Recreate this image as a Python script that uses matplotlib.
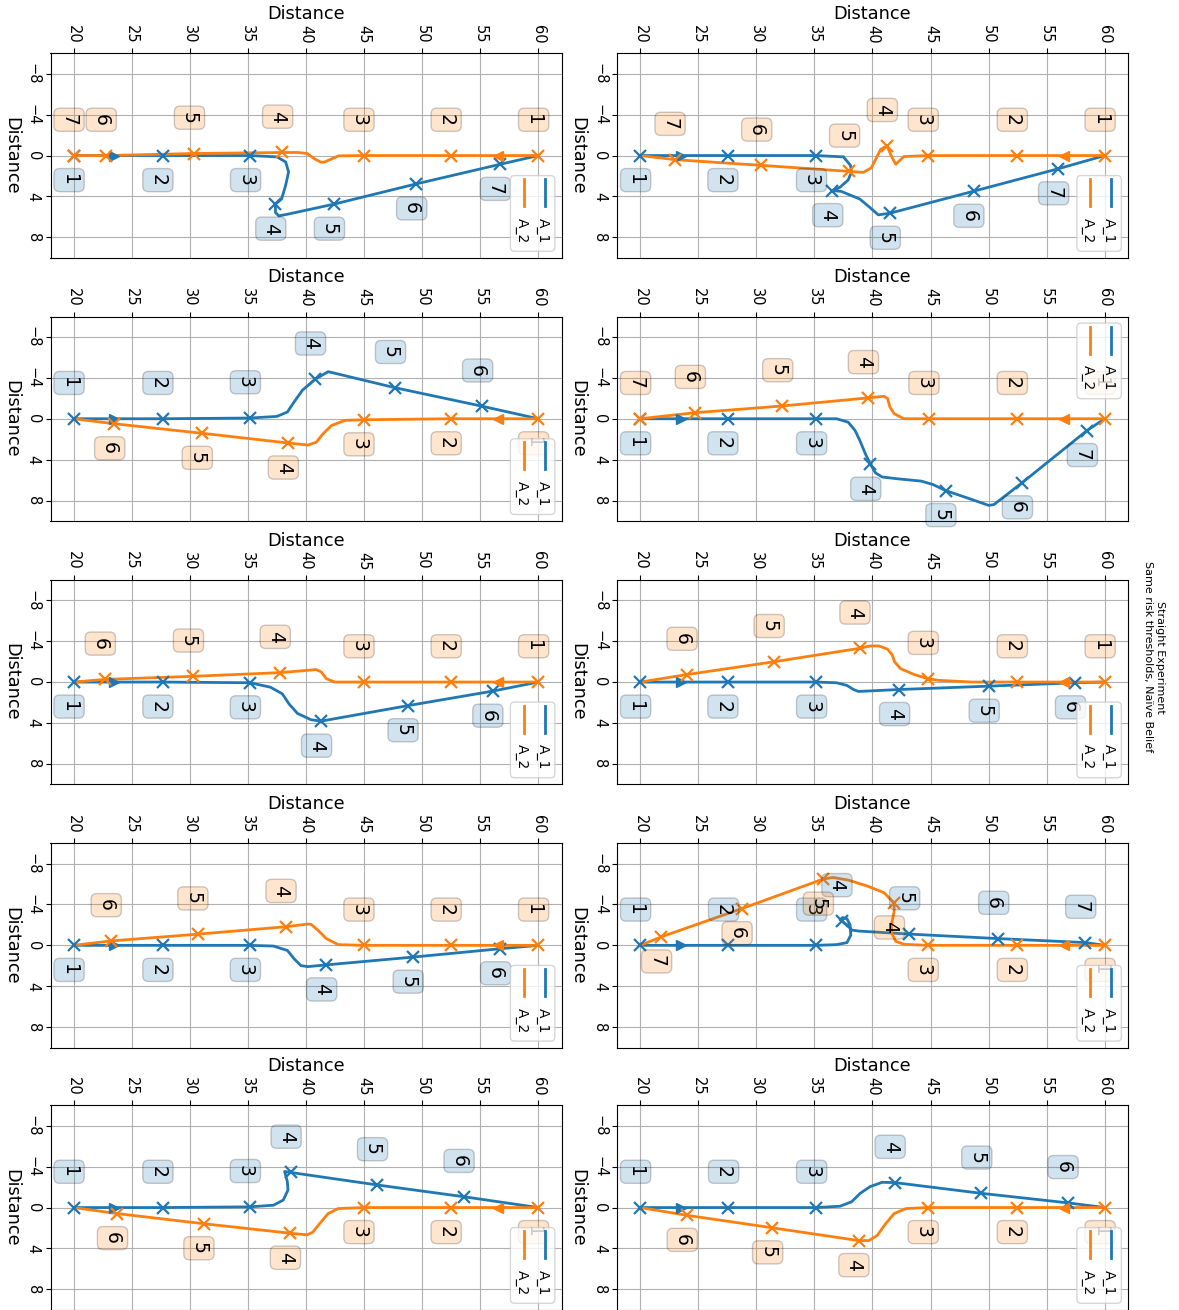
import numpy as np
import matplotlib.pyplot as plt
from matplotlib.patches import FancyBboxPatch

# Paths are (distance, lateral) pairs.
# *_wp = indices of the waypoints marked with an x (labelled 1, 2, ...).

# row 1
a1_r1_left = [(20, 0), (27.65, 0), (35.2, 0), (37.5, 0.13), (38.25, 0.63), (38.5, 1.6), (38.25, 2.9),
              (37.9, 4.25), (37.37, 4.75), (37.37, 5.57), (37.66, 5.9), (38.4, 5.74), (42.42, 4.75),
              (49.5, 2.77), (56.7, 0.86), (60, 0)]
a1_r1_left_wp = [0, 1, 2, 8, 12, 13, 14]
a2_r1_left = [(60, 0), (52.47, 0), (44.96, 0), (42.8, 0.03), (41.6, 0.63), (41.3, 0.66), (40.7, 0.3),
              (40.1, -0.2), (39.3, -0.3), (37.96, -0.3), (30.37, -0.2), (22.77, 0), (20, 0)]
a2_r1_left_wp = [0, 1, 2, 9, 10, 11, 12]

a1_r1_right = [(20, 0), (27.52, 0), (35.15, 0), (37.5, 0.13), (38.1, 0.96), (38.2, 1.6), (37.9, 2.4),
               (37.2, 3.1), (36.55, 3.43), (37.3, 3.5), (38.9, 4.25), (39.8, 5.1), (40.5, 5.8),
               (41.5, 5.64), (48.7, 3.49), (56.0, 1.29), (60, 0)]
a1_r1_right_wp = [0, 1, 2, 8, 13, 14, 15]
a2_r1_right = [(60, 0), (52.44, 0), (44.77, 0), (42.7, 0.1), (42.0, 0.85), (41.6, 0.0), (41.25, -0.96),
               (40.7, -0.6), (40.3, 0.3), (39.9, 1.2), (39.2, 1.65), (38.0, 1.55), (30.43, 0.96),
               (22.97, 0.4), (20, 0)]
a2_r1_right_wp = [0, 1, 2, 6, 11, 12, 13]

# row 2
a1_r2_left = [(20, 0), (27.65, 0), (35.18, -0.07), (37.5, -0.23), (38.4, -0.66), (38.98, -1.65),
              (39.7, -2.8), (40.79, -3.86), (41.9, -4.6), (42.3, -4.5), (47.68, -3.03), (55.18, -1.22),
              (60, 0)]
a1_r2_left_wp = [0, 1, 2, 7, 10, 11]
a2_r2_left = [(60, 0), (52.47, 0), (44.96, 0.1), (43.36, 0.16), (42.2, 0.66), (41.46, 1.48), (40.88, 2.3),
              (40.15, 2.57), (38.45, 2.37), (31.04, 1.42), (23.5, 0.49), (20, 0)]
a2_r2_left_wp = [0, 1, 2, 8, 9, 10]

a1_r2_right = [(20, 0), (27.52, 0), (35.16, 0), (36.9, 0), (37.9, 0.33), (38.5, 1.15), (38.9, 2.1),
               (39.4, 3.46), (39.82, 4.45), (40.26, 5.3), (40.84, 5.7), (42.15, 5.87), (44.2, 6.1),
               (45.2, 6.43), (46.29, 7.02), (48.56, 7.9), (50.0, 8.47), (50.45, 8.4), (52.88, 6.26),
               (58.47, 1.15), (60, 0)]
a1_r2_right_wp = [0, 1, 2, 8, 14, 18, 19]
a2_r2_right = [(60, 0), (52.44, 0), (44.83, 0), (42.7, 0), (41.86, -0.5), (41.5, -1.15), (41.3, -1.98),
               (40.99, -2.2), (39.62, -2.04), (32.24, -1.25), (24.72, -0.59), (20, 0)]
a2_r2_right_wp = [0, 1, 2, 8, 9, 10, 11]

# row 3
a1_r3_left = [(20, 0), (27.65, 0), (35.18, 0.07), (36.93, 0.5), (37.96, 1.15), (38.54, 2.14),
              (39.27, 3.07), (40.44, 3.69), (41.31, 3.82), (48.76, 2.31), (56.06, 0.89), (60, 0)]
a1_r3_left_wp = [0, 1, 2, 8, 9, 10]
a2_r3_left = [(60, 0), (52.47, 0), (44.96, 0), (42.48, 0), (41.75, -0.33), (41.31, -0.99), (40.88, -1.22),
              (37.75, -0.92), (30.28, -0.56), (22.69, -0.26), (20, 0)]
a2_r3_left_wp = [0, 1, 2, 7, 8, 9]

a1_r3_right = [(20, 0), (27.52, 0), (35.16, 0), (36.9, 0.07), (37.8, 0.33), (38.36, 0.73), (38.8, 0.92),
               (42.3, 0.73), (50.02, 0.4), (57.45, 0.07), (60, 0)]
a1_r3_right_wp = [0, 1, 2, 7, 8, 9]
a2_r3_right = [(60, 0), (52.44, 0), (48.56, 0), (45.65, -0.17), (44.77, -0.33), (43.6, -0.73),
               (42.4, -1.32), (41.9, -1.98), (41.7, -2.64), (41.28, -3.23), (40.55, -3.53), (39.8, -3.53),
               (38.89, -3.3), (31.5, -1.98), (24.0, -0.73), (20, 0)]
a2_r3_right_wp = [0, 1, 4, 12, 13, 14]

# row 4
a1_r4_left = [(20, 0), (27.65, 0), (35.18, 0), (37.2, 0.07), (38.4, 0.5), (38.98, 1.32), (39.56, 1.98),
              (40.15, 2.08), (41.75, 1.91), (49.2, 1.15), (56.73, 0.33), (60, 0)]
a1_r4_left_wp = [0, 1, 2, 8, 9, 10]
a2_r4_left = [(60, 0), (52.47, 0), (44.96, 0), (42.77, -0.07), (41.75, -0.66), (41.02, -1.49),
              (40.44, -2.05), (40.15, -2.08), (38.25, -1.82), (30.66, -1.09), (23.2, -0.43), (20, 0)]
a2_r4_left_wp = [0, 1, 2, 8, 9, 10]

a1_r4_right = [(20, 0), (27.58, 0), (35.16, 0), (36.9, -0.07), (37.8, -0.27), (38.13, -1.0), (38.07, -2.0),
               (37.8, -2.6), (37.43, -2.72), (37.2, -2.5), (37.34, -2.39), (37.8, -2.0), (38.2, -1.5),
               (38.8, -1.4), (43.17, -1.1), (50.84, -0.66), (58.33, -0.27), (60, 0)]
a1_r4_right_wp = [0, 1, 2, 10, 14, 15, 16]
a2_r4_right = [(60, 0), (52.44, 0), (44.77, 0), (42.73, -0.1), (42.0, -0.4), (41.66, -1.16), (41.63, -2.0),
               (41.86, -3.32), (41.86, -4.15), (40.99, -5.15), (39.53, -5.81), (37.92, -6.38),
               (36.6, -6.64), (35.74, -6.48), (28.74, -3.59), (21.81, -0.83), (20, 0)]
a2_r4_right_wp = [0, 1, 2, 8, 13, 14, 15]

# row 5
a1_r5_left = [(20, 0), (27.65, 0), (35.18, -0.07), (37.2, -0.23), (38.04, -0.73), (38.45, -1.71),
              (38.39, -2.54), (38.16, -3.53), (38.69, -3.43), (46.13, -2.21), (53.58, -1.06), (60, 0)]
a1_r5_left_wp = [0, 1, 2, 8, 9, 10]
a2_r5_left = [(60, 0), (52.47, 0), (44.96, 0), (42.77, 0.1), (41.9, 0.59), (41.17, 1.58), (40.58, 2.41),
              (40.09, 2.67), (38.63, 2.51), (31.18, 1.58), (23.74, 0.59), (20, 0)]
a2_r5_left_wp = [0, 1, 2, 8, 9, 10]

a1_r5_right = [(20, 0), (27.58, 0), (35.16, 0), (37.2, -0.13), (38.2, -0.56), (38.94, -1.39), (39.8, -2.05),
               (40.84, -2.47), (41.92, -2.44), (49.38, -1.39), (56.81, -0.46), (60, 0)]
a1_r5_right_wp = [0, 1, 2, 8, 9, 10]
a2_r5_right = [(60, 0), (52.44, 0), (44.77, 0), (42.88, 0.1), (41.86, 0.59), (41.13, 1.58), (40.4, 2.74),
               (39.67, 3.23), (38.8, 3.23), (31.37, 1.98), (24.02, 0.76), (20, 0)]
a2_r5_right_wp = [0, 1, 2, 8, 9, 10]

# direction arrows (distance along the start of each path)
arrow_at = [23.5, 56.5]

agent_names = ["A_1", "A_2"]
title = "Straight Experiment\nSame risk thresholds, Naïve Belief"

# (row, col, a1, a1_wp, a2, a2_wp, side of A_1 labels, legend at top)
panels = [
    (0, 0, a1_r1_left, a1_r1_left_wp, a2_r1_left, a2_r1_left_wp, 1, False),
    (0, 1, a1_r1_right, a1_r1_right_wp, a2_r1_right, a2_r1_right_wp, 1, False),
    (1, 0, a1_r2_left, a1_r2_left_wp, a2_r2_left, a2_r2_left_wp, -1, False),
    (1, 1, a1_r2_right, a1_r2_right_wp, a2_r2_right, a2_r2_right_wp, 1, True),
    (2, 0, a1_r3_left, a1_r3_left_wp, a2_r3_left, a2_r3_left_wp, 1, False),
    (2, 1, a1_r3_right, a1_r3_right_wp, a2_r3_right, a2_r3_right_wp, 1, False),
    (3, 0, a1_r4_left, a1_r4_left_wp, a2_r4_left, a2_r4_left_wp, 1, False),
    (3, 1, a1_r4_right, a1_r4_right_wp, a2_r4_right, a2_r4_right_wp, -1, False),
    (4, 0, a1_r5_left, a1_r5_left_wp, a2_r5_left, a2_r5_left_wp, -1, False),
    (4, 1, a1_r5_right, a1_r5_right_wp, a2_r5_right, a2_r5_right_wp, -1, False),
]

FIG_W, FIG_H = 1179, 1310
COL_LEFT = [50.5, 617]
ROW_TOP = [53.3, 316.5, 579.8, 843.1, 1105.3]
AX_W, AX_H = 511, 204.5
COLORS = ["C0", "C1"]


def draw_legend(ax, top):
    """Legend drawn by hand so it reads top-to-bottom like the rest of the figure."""
    y1 = 0.968 if top else 0.402
    box = FancyBboxPatch((0.900, y1 - 0.37), 0.087, 0.37, transform=ax.transAxes,
                         boxstyle="round,pad=0,rounding_size=0.008", mutation_aspect=AX_W / AX_H,
                         fc="white", ec="0.8", alpha=0.8, lw=1, zorder=5)
    ax.add_patch(box)
    for x, color, name in zip([0.967, 0.926], COLORS, agent_names):
        ax.plot([x, x], [y1 - 0.017, y1 - 0.149], transform=ax.transAxes, color=color,
                lw=2, zorder=6, clip_on=False)
        ax.text(x - 0.004, y1 - 0.268, name, transform=ax.transAxes, rotation=270,
                ha="center", va="center", fontsize=10, zorder=6)


def draw_panel(ax, a1, a1_wp, a2, a2_wp, side, legend_top):
    agents = [(a1, a1_wp, side, ">"), (a2, a2_wp, -side, "<")]
    for (path, wp, sgn, arrow), color, ad in zip(agents, COLORS, arrow_at):
        d, l = np.array(path, dtype=float).T
        ax.plot(d, l, color=color, lw=2, zorder=2, solid_joinstyle="round")
        ax.plot(d[wp], l[wp], "x", color=color, ms=8.5, mew=1.6, zorder=3)
        ax.plot([ad], [0], marker=arrow, color=color, ms=7, zorder=3)
        off = 2.4 if sgn > 0 else -3.5
        for k, i in enumerate(wp):
            ax.text(d[i] - 0.4, l[i] + off, str(k + 1), rotation=270, ha="center", va="center",
                    fontsize=13.5, zorder=4,
                    bbox=dict(boxstyle="round,pad=0.3", fc=color, ec="black", alpha=0.2))

    ax.set_xlim(18, 62)
    ax.set_ylim(10, -10)
    ax.set_xticks(np.arange(20, 61, 5))
    ax.set_yticks([-8, -4, 0, 4, 8])
    ax.xaxis.tick_top()
    ax.xaxis.set_label_position("top")
    ax.tick_params(axis="x", labelrotation=270, labelsize=10.5)
    ax.tick_params(axis="y", labelsize=10.5)
    plt.setp(ax.get_yticklabels(), rotation=270, va="center")
    ax.set_xlabel("Distance", fontsize=12.8)
    ax.set_ylabel("Distance", fontsize=12.8, rotation=270, va="top")
    ax.grid(True)
    ax.set_axisbelow(True)
    draw_legend(ax, legend_top)


fig = plt.figure(figsize=(FIG_W / 100, FIG_H / 100), dpi=100)
for row, col, a1, a1_wp, a2, a2_wp, side, legend_top in panels:
    rect = [COL_LEFT[col] / FIG_W, 1 - (ROW_TOP[row] + AX_H) / FIG_H, AX_W / FIG_W, AX_H / FIG_H]
    ax = fig.add_axes(rect)
    draw_panel(ax, a1, a1_wp, a2, a2_wp, side, legend_top)

fig.text(1154 / FIG_W, 1 - 657 / FIG_H, title, rotation=270, ha="center", va="center",
         fontsize=8, multialignment="center")

fig.savefig("out.png", dpi=100)
